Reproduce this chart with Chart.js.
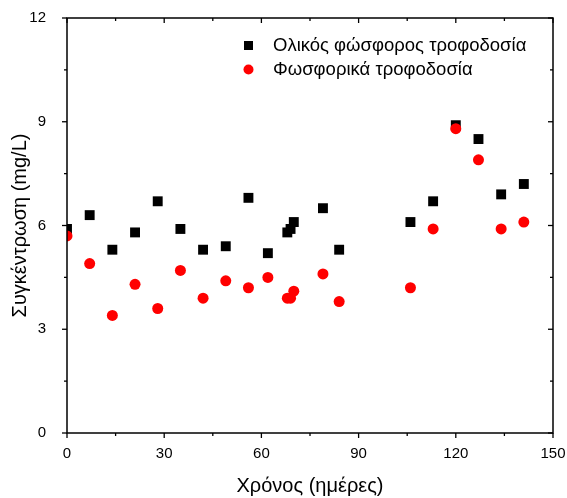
<!DOCTYPE html>
<html>
<head>
<meta charset="utf-8">
<script src="https://cdn.jsdelivr.net/npm/chart.js@4/dist/chart.umd.min.js"></script>
<style>
  html, body { margin: 0; padding: 0; background: #fff; }
  #wrap { width: 567px; height: 498px; }
</style>
</head>
<body>
<div id="wrap"><canvas id="chart" width="567" height="498"></canvas></div>
<script>
// days of sampling
const days = [0, 7, 14, 21, 28, 35, 42, 49, 56, 62, 68, 69, 70, 79, 84, 106, 113, 120, 127, 134, 141];
// total phosphorus, feed (mg/L)
const totalP = [5.9, 6.3, 5.3, 5.8, 6.7, 5.9, 5.3, 5.4, 6.8, 5.2, 5.8, 5.9, 6.1, 6.5, 5.3, 6.1, 6.7, 8.9, 8.5, 6.9, 7.2];
// phosphates, feed (mg/L)
const phosphates = [5.7, 4.9, 3.4, 4.3, 3.6, 4.7, 3.9, 4.4, 4.2, 4.5, 3.9, 3.9, 4.1, 4.6, 3.8, 4.2, 5.9, 8.8, 7.9, 5.9, 6.1];

const xMajor = [0, 30, 60, 90, 120, 150];
const xMinor = [15, 45, 75, 105, 135];
const yMajor = [0, 3, 6, 9, 12];
const yMinor = [1.5, 4.5, 7.5, 10.5];

const legendLabels = ['Ολικός φώσφορος τροφοδοσία', 'Φωσφορικά τροφοδοσία'];
const FONT = '"Liberation Sans", Arial, sans-serif';

const toPoints = (xs, ys) => xs.map((x, i) => ({ x: x, y: ys[i] }));

// frame, inward/outward ticks and legend
const framePlugin = {
    id: 'frame',
    afterDraw(chart) {
        const ctx = chart.ctx;
        const a = chart.chartArea;
        const xs = chart.scales.x, ys = chart.scales.y;
        ctx.save();
        ctx.strokeStyle = '#000';
        ctx.lineWidth = 1.5;
        ctx.strokeRect(a.left, a.top, a.right - a.left, a.bottom - a.top);

        const tick = (x1, y1, x2, y2) => {
            ctx.beginPath();
            ctx.moveTo(x1, y1);
            ctx.lineTo(x2, y2);
            ctx.stroke();
        };
        ctx.lineWidth = 1.3;
        xMajor.forEach(v => {
            const p = xs.getPixelForValue(v);
            tick(p, a.bottom, p, a.bottom + 5);
            tick(p, a.top, p, a.top + 5);
        });
        xMinor.forEach(v => {
            const p = xs.getPixelForValue(v);
            tick(p, a.bottom, p, a.bottom + 3);
            tick(p, a.top, p, a.top + 3);
        });
        yMajor.forEach(v => {
            const p = ys.getPixelForValue(v);
            tick(a.left, p, a.left - 5, p);
            tick(a.right, p, a.right - 5, p);
        });
        yMinor.forEach(v => {
            const p = ys.getPixelForValue(v);
            tick(a.left, p, a.left - 3, p);
            tick(a.right, p, a.right - 3, p);
        });

        // legend
        ctx.fillStyle = '#000';
        ctx.fillRect(244, 41, 9, 9);
        ctx.fillStyle = '#ff0000';
        ctx.beginPath();
        ctx.arc(248.5, 69.5, 5, 0, Math.PI * 2);
        ctx.fill();
        ctx.fillStyle = '#000';
        ctx.font = '18.5px ' + FONT;
        ctx.textBaseline = 'middle';
        ctx.fillText(legendLabels[0], 273, 45.5);
        ctx.fillText(legendLabels[1], 273, 70);
        ctx.restore();
    }
};

new Chart(document.getElementById('chart'), {
    type: 'scatter',
    data: {
        datasets: [
            {
                label: legendLabels[1],
                data: toPoints(days, phosphates),
                pointStyle: 'circle',
                radius: 5.5,
                backgroundColor: '#ff0000',
                borderWidth: 0
            },
            {
                label: legendLabels[0],
                data: toPoints(days, totalP),
                pointStyle: 'rect',
                radius: 7,
                backgroundColor: '#000',
                borderWidth: 0
            }
        ]
    },
    options: {
        responsive: false,
        animation: false,
        layout: { padding: { top: 18, right: 14, left: 0, bottom: 0 } },
        plugins: {
            legend: { display: false },
            tooltip: { enabled: false }
        },
        scales: {
            x: {
                type: 'linear',
                min: 0,
                max: 150,
                grid: { display: false },
                border: { display: false },
                afterFit: s => { s.height = 65; s.paddingLeft = 0; s.paddingRight = 0; },
                afterBuildTicks: s => { s.ticks = xMajor.map(v => ({ value: v })); },
                ticks: {
                    color: '#000',
                    font: { family: FONT, size: 15 },
                    padding: 4,
                    maxRotation: 0,
                    autoSkip: false
                },
                title: {
                    display: true,
                    text: 'Χρόνος (ημέρες)',
                    color: '#000',
                    font: { family: FONT, size: 20 },
                    padding: { top: 0, bottom: 0 }
                }
            },
            y: {
                type: 'linear',
                min: 0,
                max: 12,
                grid: { display: false },
                border: { display: false },
                afterFit: s => { s.width = 67; s.paddingTop = 0; s.paddingBottom = 0; },
                afterBuildTicks: s => { s.ticks = yMajor.map(v => ({ value: v })); },
                ticks: {
                    color: '#000',
                    font: { family: FONT, size: 15 },
                    padding: 13,
                    autoSkip: false
                },
                title: {
                    display: true,
                    text: 'Συγκέντρωση (mg/L)',
                    color: '#000',
                    font: { family: FONT, size: 20 },
                    padding: { top: 8, bottom: 0 }
                }
            }
        }
    },
    plugins: [framePlugin]
});
</script>
</body>
</html>
